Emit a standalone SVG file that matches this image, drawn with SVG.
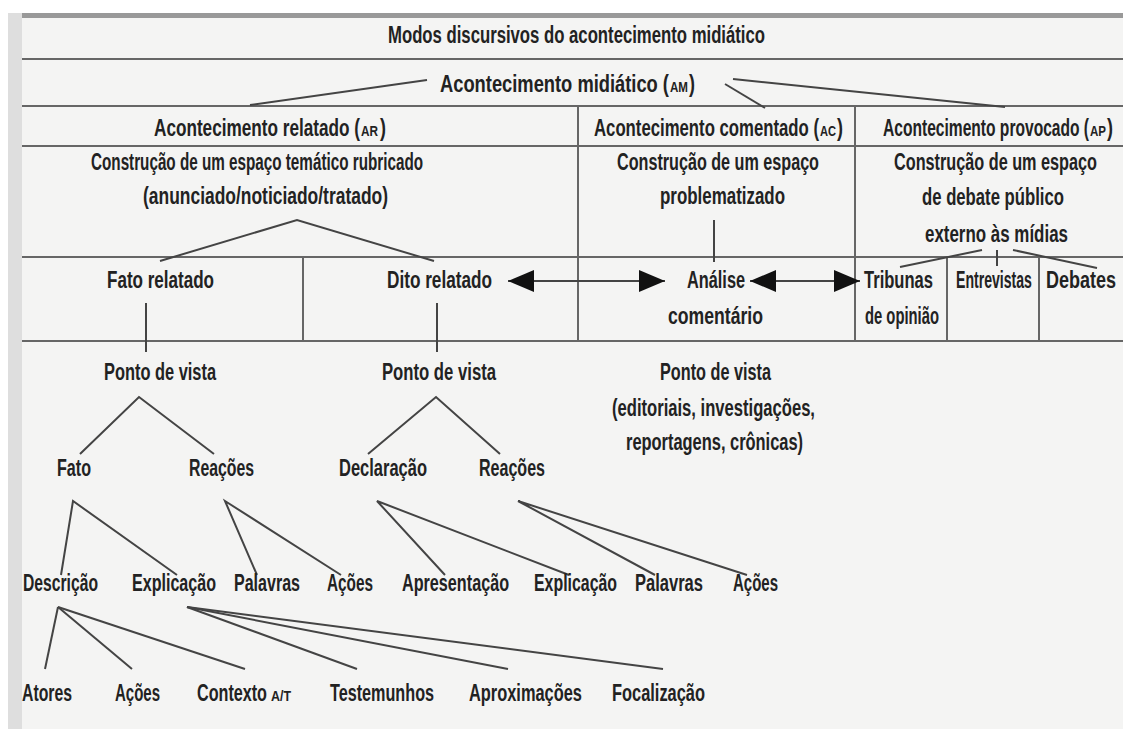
<svg xmlns="http://www.w3.org/2000/svg" width="1123" height="729" viewBox="0 0 1123 729">
<defs>
<style>
text{font-family:"Liberation Sans",Arial,sans-serif;font-weight:bold;font-size:23px;fill:#222;}
.sc{font-size:15px;}
.rule{stroke:#666;stroke-width:2;fill:none;}
.con{stroke:#444;stroke-width:2;fill:none;}
</style>
<marker id="ah" viewBox="0 0 26 22" refX="26" refY="11" markerWidth="26" markerHeight="22" markerUnits="userSpaceOnUse" orient="auto-start-reverse">
<path d="M0,0 L26,11 L0,22 z" fill="#111"/>
</marker>
</defs>
<rect x="0" y="0" width="1123" height="729" fill="#ffffff"/>
<rect x="8" y="13" width="1115" height="716" fill="#f4f4f3"/>
<rect x="8" y="13" width="14" height="716" fill="#dedede"/>
<line x1="22" y1="15.5" x2="1123" y2="15.5" stroke="#999" stroke-width="5"/>
<g id="table">
<line class="rule" x1="22" y1="59" x2="1123" y2="59"/>
<line class="rule" x1="22" y1="106" x2="1123" y2="106"/>
<line class="rule" x1="22" y1="146" x2="1123" y2="146"/>
<line class="rule" x1="22" y1="257" x2="1123" y2="257"/>
<line class="rule" x1="22" y1="341" x2="1123" y2="341"/>
<line class="rule" x1="578" y1="106" x2="578" y2="341"/>
<line class="rule" x1="855" y1="106" x2="855" y2="341"/>
<line class="rule" x1="303" y1="257" x2="303" y2="341"/>
<line class="rule" x1="947" y1="257" x2="947" y2="341"/>
<line class="rule" x1="1039" y1="257" x2="1039" y2="341"/>
</g>
<g id="connectors">
<line class="con" x1="427" y1="80" x2="250" y2="105"/>
<line class="con" x1="725" y1="84" x2="765" y2="108"/>
<line class="con" x1="733" y1="79" x2="1005" y2="107"/>
<polyline class="con" points="160,261 297,220 434,261"/>
<line class="con" x1="146" y1="303" x2="146" y2="352"/>
<line class="con" x1="437" y1="303" x2="437" y2="352"/>
<line class="con" x1="714" y1="220" x2="714" y2="262"/>
<line class="con" x1="982" y1="250" x2="900" y2="267"/>
<line class="con" x1="997" y1="250" x2="997" y2="266"/>
<line class="con" x1="1013" y1="250" x2="1097" y2="268"/>
<line class="con" x1="508" y1="281" x2="665" y2="281" marker-start="url(#ah)" marker-end="url(#ah)"/>
<line class="con" x1="750" y1="281" x2="860" y2="281" marker-start="url(#ah)" marker-end="url(#ah)"/>
<polyline class="con" points="80,454 139,397 214,454"/>
<polyline class="con" points="368,454 436,397 500,454"/>
<polyline class="con" points="61,575 73,501 177,575"/>
<polyline class="con" points="257,575 225,501 341,575"/>
<polyline class="con" points="445,575 377,501 569,575"/>
<polyline class="con" points="655,575 518,501 747,575"/>
<line class="con" x1="58" y1="607" x2="45" y2="669"/>
<line class="con" x1="58" y1="607" x2="132" y2="669"/>
<line class="con" x1="58" y1="607" x2="245" y2="669"/>
<line class="con" x1="187" y1="607" x2="357" y2="669"/>
<line class="con" x1="187" y1="607" x2="508" y2="669"/>
<line class="con" x1="187" y1="607" x2="663" y2="669"/>
</g>
<g id="title"><text transform="translate(388,43) scale(0.712,1)" textLength="529.5" lengthAdjust="spacingAndGlyphs">Modos discursivos do acontecimento midiático</text></g>
<g id="am">
<text transform="translate(440,92) scale(0.712,1)" textLength="321.6" lengthAdjust="spacingAndGlyphs">Acontecimento midiático (</text>
<text class="sc" transform="translate(670,92) scale(0.712,1)" textLength="25.3" lengthAdjust="spacingAndGlyphs">AM</text>
<text transform="translate(689,92) scale(0.712,1)" textLength="8.4" lengthAdjust="spacingAndGlyphs">)</text>
</g>
<g id="ar">
<text transform="translate(154,136) scale(0.712,1)" textLength="289.3" lengthAdjust="spacingAndGlyphs">Acontecimento relatado (</text>
<text class="sc" transform="translate(361,136) scale(0.712,1)" textLength="23.9" lengthAdjust="spacingAndGlyphs">AR</text>
<text transform="translate(380,136) scale(0.712,1)" textLength="8.4" lengthAdjust="spacingAndGlyphs">)</text>
<text transform="translate(91,170) scale(0.712,1)" textLength="466.3" lengthAdjust="spacingAndGlyphs">Construção de um espaço temático rubricado</text>
<text transform="translate(143,204) scale(0.712,1)" textLength="344.1" lengthAdjust="spacingAndGlyphs">(anunciado/noticiado/tratado)</text>
</g>
<g id="ac">
<text transform="translate(594,136) scale(0.712,1)" textLength="316" lengthAdjust="spacingAndGlyphs">Acontecimento comentado (</text>
<text class="sc" transform="translate(820,136) scale(0.712,1)" textLength="22.5" lengthAdjust="spacingAndGlyphs">AC</text>
<text transform="translate(837,136) scale(0.712,1)" textLength="8.4" lengthAdjust="spacingAndGlyphs">)</text>
<text transform="translate(617,170) scale(0.712,1)" textLength="283.7" lengthAdjust="spacingAndGlyphs">Construção de um espaço</text>
<text transform="translate(660,204) scale(0.712,1)" textLength="175.6" lengthAdjust="spacingAndGlyphs">problematizado</text>
</g>
<g id="ap">
<text transform="translate(883,136) scale(0.667,1)" textLength="308.9" lengthAdjust="spacingAndGlyphs">Acontecimento provocado (</text>
<text class="sc" transform="translate(1090,136) scale(0.712,1)" textLength="22.5" lengthAdjust="spacingAndGlyphs">AP</text>
<text transform="translate(1107,136) scale(0.712,1)" textLength="8.4" lengthAdjust="spacingAndGlyphs">)</text>
<text transform="translate(894,170) scale(0.712,1)" textLength="285.1" lengthAdjust="spacingAndGlyphs">Construção de um espaço</text>
<text transform="translate(922,205) scale(0.712,1)" textLength="199.4" lengthAdjust="spacingAndGlyphs">de debate público</text>
<text transform="translate(925,242) scale(0.712,1)" textLength="200.8" lengthAdjust="spacingAndGlyphs">externo às mídias</text>
</g>
<g id="fato-relatado"><text transform="translate(107,288) scale(0.712,1)" textLength="150.3" lengthAdjust="spacingAndGlyphs">Fato relatado</text></g>
<g id="dito-relatado"><text transform="translate(387,288) scale(0.712,1)" textLength="147.5" lengthAdjust="spacingAndGlyphs">Dito relatado</text></g>
<g id="analise">
<text transform="translate(687,288) scale(0.712,1)" textLength="81.5" lengthAdjust="spacingAndGlyphs">Análise</text>
<text transform="translate(668,324) scale(0.712,1)" textLength="133.4" lengthAdjust="spacingAndGlyphs">comentário</text>
</g>
<g id="tribunas">
<text transform="translate(864,288) scale(0.712,1)" textLength="96.9" lengthAdjust="spacingAndGlyphs">Tribunas</text>
<text transform="translate(865,324) scale(0.712,1)" textLength="103.9" lengthAdjust="spacingAndGlyphs">de opinião</text>
</g>
<g id="entrevistas"><text transform="translate(956,288) scale(0.712,1)" textLength="106.7" lengthAdjust="spacingAndGlyphs">Entrevistas</text></g>
<g id="debates"><text transform="translate(1046,288) scale(0.712,1)" textLength="98.3" lengthAdjust="spacingAndGlyphs">Debates</text></g>
<g id="pv1"><text transform="translate(104,380) scale(0.712,1)" textLength="157.3" lengthAdjust="spacingAndGlyphs">Ponto de vista</text></g>
<g id="pv2"><text transform="translate(382,380) scale(0.712,1)" textLength="160.1" lengthAdjust="spacingAndGlyphs">Ponto de vista</text></g>
<g id="pv3">
<text transform="translate(660,380) scale(0.712,1)" textLength="155.9" lengthAdjust="spacingAndGlyphs">Ponto de vista</text>
<text transform="translate(612,416) scale(0.712,1)" textLength="285.1" lengthAdjust="spacingAndGlyphs">(editoriais, investigações,</text>
<text transform="translate(626,450) scale(0.712,1)" textLength="248.6" lengthAdjust="spacingAndGlyphs">reportagens, crônicas)</text>
</g>
<g id="fato"><text transform="translate(57,476) scale(0.712,1)" textLength="47.8" lengthAdjust="spacingAndGlyphs">Fato</text></g>
<g id="reacoes1"><text transform="translate(189,476) scale(0.712,1)" textLength="91.3" lengthAdjust="spacingAndGlyphs">Reações</text></g>
<g id="declaracao"><text transform="translate(339,476) scale(0.712,1)" textLength="123.6" lengthAdjust="spacingAndGlyphs">Declaração</text></g>
<g id="reacoes2"><text transform="translate(479,476) scale(0.712,1)" textLength="92.7" lengthAdjust="spacingAndGlyphs">Reações</text></g>
<g id="descricao"><text transform="translate(23,591) scale(0.712,1)" textLength="105.3" lengthAdjust="spacingAndGlyphs">Descrição</text></g>
<g id="explicacao1"><text transform="translate(132,591) scale(0.712,1)" textLength="118" lengthAdjust="spacingAndGlyphs">Explicação</text></g>
<g id="palavras1"><text transform="translate(234,591) scale(0.712,1)" textLength="92.7" lengthAdjust="spacingAndGlyphs">Palavras</text></g>
<g id="acoes1"><text transform="translate(327,591) scale(0.712,1)" textLength="64.6" lengthAdjust="spacingAndGlyphs">Ações</text></g>
<g id="apresentacao"><text transform="translate(402,591) scale(0.712,1)" textLength="150.3" lengthAdjust="spacingAndGlyphs">Apresentação</text></g>
<g id="explicacao2"><text transform="translate(534,591) scale(0.712,1)" textLength="116.6" lengthAdjust="spacingAndGlyphs">Explicação</text></g>
<g id="palavras2"><text transform="translate(635,591) scale(0.712,1)" textLength="95.5" lengthAdjust="spacingAndGlyphs">Palavras</text></g>
<g id="acoes2"><text transform="translate(733,591) scale(0.712,1)" textLength="63.2" lengthAdjust="spacingAndGlyphs">Ações</text></g>
<g id="atores"><text transform="translate(22,701) scale(0.712,1)" textLength="70.2" lengthAdjust="spacingAndGlyphs">Atores</text></g>
<g id="acoes3"><text transform="translate(115,701) scale(0.712,1)" textLength="63.2" lengthAdjust="spacingAndGlyphs">Ações</text></g>
<g id="contexto">
<text transform="translate(197,701) scale(0.712,1)" textLength="98.3" lengthAdjust="spacingAndGlyphs">Contexto</text>
<text class="sc" transform="translate(271,701) scale(0.712,1)" textLength="28.1" lengthAdjust="spacingAndGlyphs">A/T</text>
</g>
<g id="testemunhos"><text transform="translate(330,701) scale(0.712,1)" textLength="146.1" lengthAdjust="spacingAndGlyphs">Testemunhos</text></g>
<g id="aproximacoes"><text transform="translate(469,701) scale(0.712,1)" textLength="158.7" lengthAdjust="spacingAndGlyphs">Aproximações</text></g>
<g id="focalizacao"><text transform="translate(612,701) scale(0.712,1)" textLength="130.6" lengthAdjust="spacingAndGlyphs">Focalização</text></g>
</svg>
